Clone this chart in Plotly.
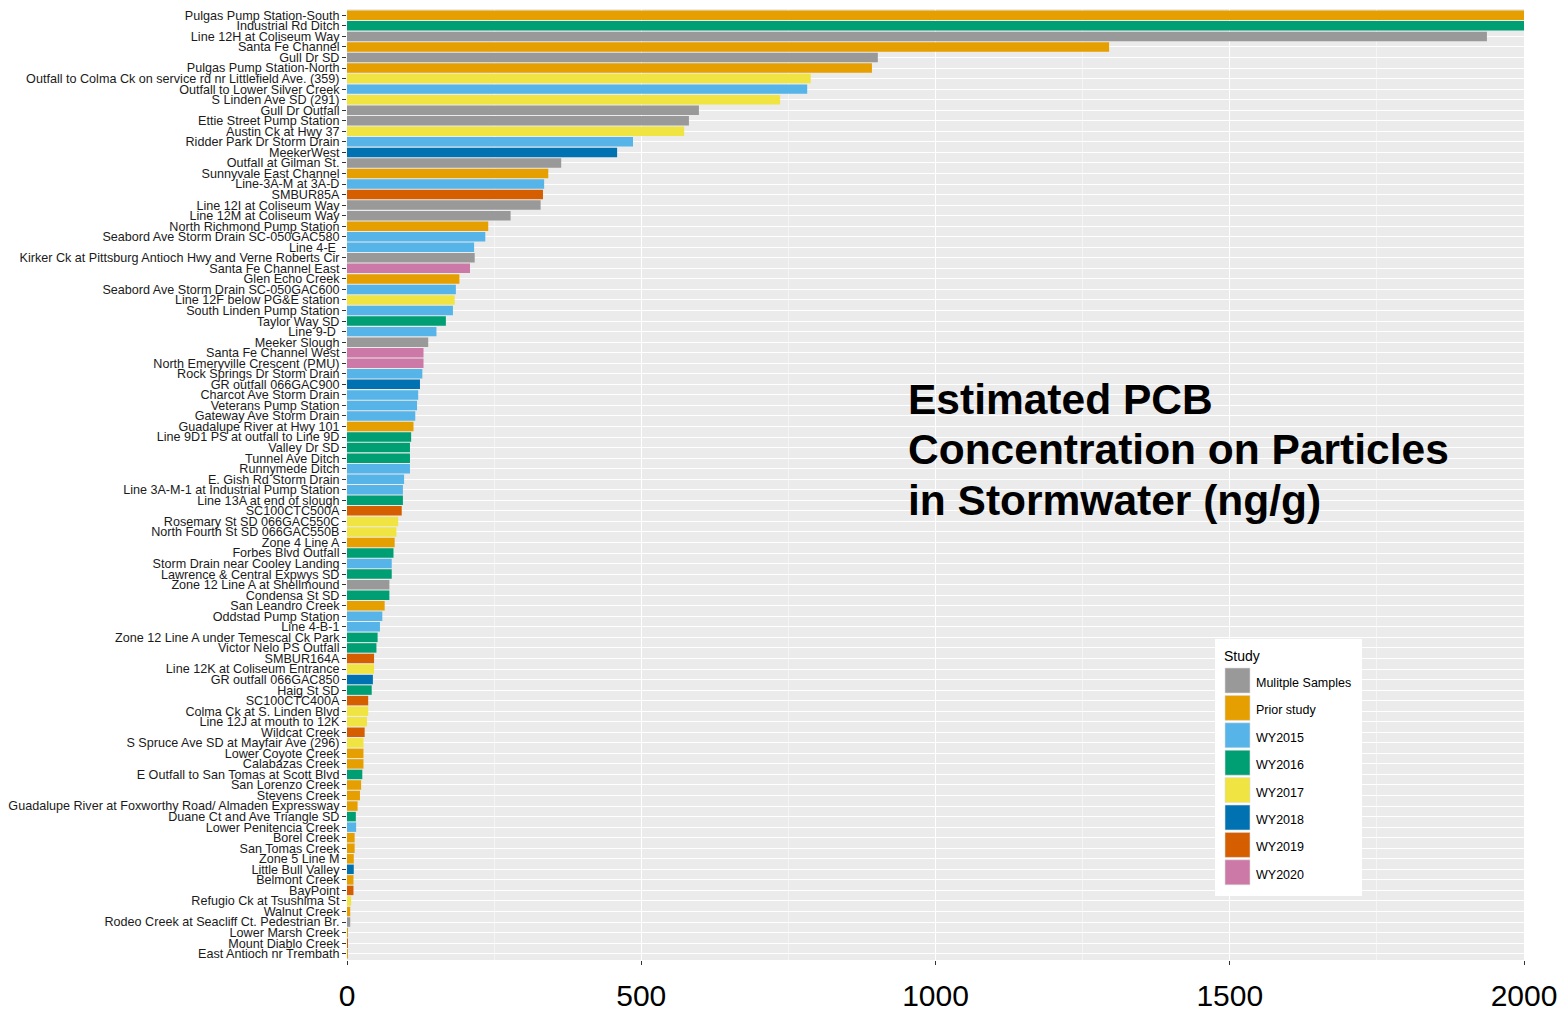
import plotly.graph_objects as go

sites = [
    "Pulgas Pump Station-South", "Industrial Rd Ditch", "Line 12H at Coliseum Way", "Santa Fe Channel",
    "Gull Dr SD", "Pulgas Pump Station-North", "Outfall to Colma Ck on service rd nr Littlefield Ave. (359)",
    "Outfall to Lower Silver Creek", "S Linden Ave SD (291)", "Gull Dr Outfall", "Ettie Street Pump Station",
    "Austin Ck at Hwy 37", "Ridder Park Dr Storm Drain", "MeekerWest", "Outfall at Gilman St.",
    "Sunnyvale East Channel", "Line-3A-M at 3A-D", "SMBUR85A", "Line 12I at Coliseum Way",
    "Line 12M at Coliseum Way", "North Richmond Pump Station", "Seabord Ave Storm Drain SC-050GAC580",
    "Line 4-E ", "Kirker Ck at Pittsburg Antioch Hwy and Verne Roberts Cir", "Santa Fe Channel East",
    "Glen Echo Creek", "Seabord Ave Storm Drain SC-050GAC600", "Line 12F below PG&E station",
    "South Linden Pump Station", "Taylor Way SD", "Line 9-D ", "Meeker Slough", "Santa Fe Channel West",
    "North Emeryville Crescent (PMU)", "Rock Springs Dr Storm Drain", "GR outfall 066GAC900",
    "Charcot Ave Storm Drain", "Veterans Pump Station", "Gateway Ave Storm Drain",
    "Guadalupe River at Hwy 101", "Line 9D1 PS at outfall to Line 9D", "Valley Dr SD", "Tunnel Ave Ditch",
    "Runnymede Ditch", "E. Gish Rd Storm Drain", "Line 3A-M-1 at Industrial Pump Station",
    "Line 13A at end of slough", "SC100CTC500A", "Rosemary St SD 066GAC550C", "North Fourth St SD 066GAC550B",
    "Zone 4 Line A", "Forbes Blvd Outfall", "Storm Drain near Cooley Landing", "Lawrence & Central Expwys SD",
    "Zone 12 Line A at Shellmound", "Condensa St SD", "San Leandro Creek", "Oddstad Pump Station",
    "Line 4-B-1", "Zone 12 Line A under Temescal Ck Park", "Victor Nelo PS Outfall", "SMBUR164A",
    "Line 12K at Coliseum Entrance", "GR outfall 066GAC850", "Haig St SD", "SC100CTC400A",
    "Colma Ck at S. Linden Blvd", "Line 12J at mouth to 12K", "Wildcat Creek",
    "S Spruce Ave SD at Mayfair Ave (296)", "Lower Coyote Creek", "Calabazas Creek",
    "E Outfall to San Tomas at Scott Blvd", "San Lorenzo Creek", "Stevens Creek",
    "Guadalupe River at Foxworthy Road/ Almaden Expressway", "Duane Ct and Ave Triangle SD",
    "Lower Penitencia Creek", "Borel Creek", "San Tomas Creek", "Zone 5 Line M", "Little Bull Valley",
    "Belmont Creek", "BayPoint", "Refugio Ck at Tsushima St", "Walnut Creek",
    "Rodeo Creek at Seacliff Ct. Pedestrian Br.", "Lower Marsh Creek", "Mount Diablo Creek",
    "East Antioch nr Trembath",
]

pcb_ng_g = [
    2000, 2000, 1937, 1295, 902, 892, 788, 782, 736, 598, 581, 573, 486, 459, 364,
    342, 335, 333, 329, 278, 240, 235, 216, 217, 209, 191, 185, 183, 180, 168,
    152, 138, 130, 130, 128, 124, 121, 119, 116, 113, 109, 107, 107, 107, 97,
    95, 95, 93, 87, 84, 81, 79, 76, 76, 72, 72, 64, 60, 56, 52,
    50, 46, 46, 44, 42, 36, 36, 34, 30, 28, 28, 28, 26, 24, 22,
    18, 15, 15.5, 13, 13, 11.5, 11.5, 11, 11, 7, 5.5, 5.5, 1.5, 1.5, 0.4,
]

study = [
    "Prior study", "WY2016", "Mulitple Samples", "Prior study", "Mulitple Samples", "Prior study",
    "WY2017", "WY2015", "WY2017", "Mulitple Samples", "Mulitple Samples", "WY2017", "WY2015",
    "WY2018", "Mulitple Samples", "Prior study", "WY2015", "WY2019", "Mulitple Samples",
    "Mulitple Samples", "Prior study", "WY2015", "WY2015", "Mulitple Samples", "WY2020",
    "Prior study", "WY2015", "WY2017", "WY2015", "WY2016", "WY2015", "Mulitple Samples",
    "WY2020", "WY2020", "WY2015", "WY2018", "WY2015", "WY2015", "WY2015", "Prior study",
    "WY2016", "WY2016", "WY2016", "WY2015", "WY2015", "WY2015", "WY2016", "WY2019",
    "WY2017", "WY2017", "Prior study", "WY2016", "WY2015", "WY2016", "Mulitple Samples",
    "WY2016", "Prior study", "WY2015", "WY2015", "WY2016", "WY2016", "WY2019", "WY2017",
    "WY2018", "WY2016", "WY2019", "WY2017", "WY2017", "WY2019", "WY2017", "Prior study",
    "Prior study", "WY2016", "Prior study", "Prior study", "Prior study", "WY2016", "WY2015",
    "Prior study", "Prior study", "Prior study", "WY2018", "Prior study", "WY2019", "WY2017",
    "Prior study", "Mulitple Samples", "Prior study", "WY2019", "Prior study",
]

study_levels = ["Mulitple Samples", "Prior study", "WY2015", "WY2016", "WY2017", "WY2018", "WY2019", "WY2020"]
study_colors = ["#999999", "#E69F00", "#56B4E9", "#009E73", "#F0E442", "#0072B2", "#D55E00", "#CC79A7"]
x_ticks = [0, 500, 1000, 1500, 2000]
title_lines = ["Estimated PCB", "Concentration on Particles", "in Stormwater (ng/g)"]

color_map = dict(zip(study_levels, study_colors))

fig = go.Figure()
fig.add_trace(go.Bar(
    x=pcb_ng_g, y=sites, orientation="h",
    marker=dict(color=[color_map[s] for s in study], line=dict(width=0)),
    showlegend=False,
    hovertemplate="%{y}: %{x}<extra></extra>",
))

W, H = 1559, 1015
L, R, T, B = 347, 1524, 9, 960
pw, ph = R - L, B - T


def px_x(x):
    return (x - L) / pw


def px_y(y):
    return (B - y) / ph


n = len(sites)
fig.update_layout(
    width=W, height=H,
    margin=dict(l=L, r=W - R, t=T, b=H - B, pad=0),
    paper_bgcolor="white",
    plot_bgcolor="#EBEBEB",
    bargap=0.1,
    font=dict(family="Liberation Sans, Arial, sans-serif"),
    xaxis=dict(
        range=[0, 2000], tickvals=x_ticks, ticktext=[str(v) for v in x_ticks],
        showgrid=True, gridcolor="white", gridwidth=1.2,
        minor=dict(dtick=250, tick0=0, showgrid=True, gridcolor="#F5F5F5", gridwidth=0.6),
        ticks="outside", ticklen=4, tickcolor="#333333",
        ticklabelstandoff=5,
        tickfont=dict(size=30, color="black"),
        zeroline=False, showline=False, automargin=False,
    ),
    yaxis=dict(
        type="category", categoryorder="array", categoryarray=sites,
        tickmode="array", tickvals=sites, ticktext=sites,
        range=[n - 1 + 0.6, -0.6],
        showgrid=True, gridcolor="white", gridwidth=1,
        ticks="outside", ticklen=4, tickcolor="#333333",
        tickfont=dict(size=12.6, color="#1a1a1a"),
        zeroline=False, showline=False, automargin=False,
    ),
)

# Title text inside the panel
for line, yc in zip(title_lines, [399, 449, 500]):
    fig.add_annotation(
        xref="paper", yref="paper", x=px_x(906), y=px_y(yc),
        xanchor="left", yanchor="middle", align="left", showarrow=False,
        text="<b>%s</b>" % line,
        font=dict(size=42.5, color="black", family="Liberation Sans, Arial, sans-serif"),
    )

# Legend box
fig.add_shape(type="rect", xref="paper", yref="paper",
              x0=px_x(1215), x1=px_x(1362), y0=px_y(896), y1=px_y(639),
              fillcolor="white", line=dict(width=0), layer="above")
fig.add_annotation(xref="paper", yref="paper", x=px_x(1222), y=px_y(656),
                   xanchor="left", yanchor="middle", showarrow=False, text="Study",
                   font=dict(size=14, color="black"))
for i, (lvl, col) in enumerate(zip(study_levels, study_colors)):
    y0 = 668 + i * 27.4
    fig.add_shape(type="rect", xref="paper", yref="paper",
                  x0=px_x(1225), x1=px_x(1250), y0=px_y(y0 + 25), y1=px_y(y0),
                  fillcolor=col, line=dict(width=0.6, color="#DDDDDD"), layer="above")
    fig.add_annotation(xref="paper", yref="paper", x=px_x(1254), y=px_y(y0 + 15),
                       xanchor="left", yanchor="middle", showarrow=False, text=lvl,
                       font=dict(size=12.5, color="black"))

fig.write_html(
    "out.html",
    config={"displayModeBar": False},
    post_script="document.body.style.margin='0';document.body.style.overflow='hidden';",
)
